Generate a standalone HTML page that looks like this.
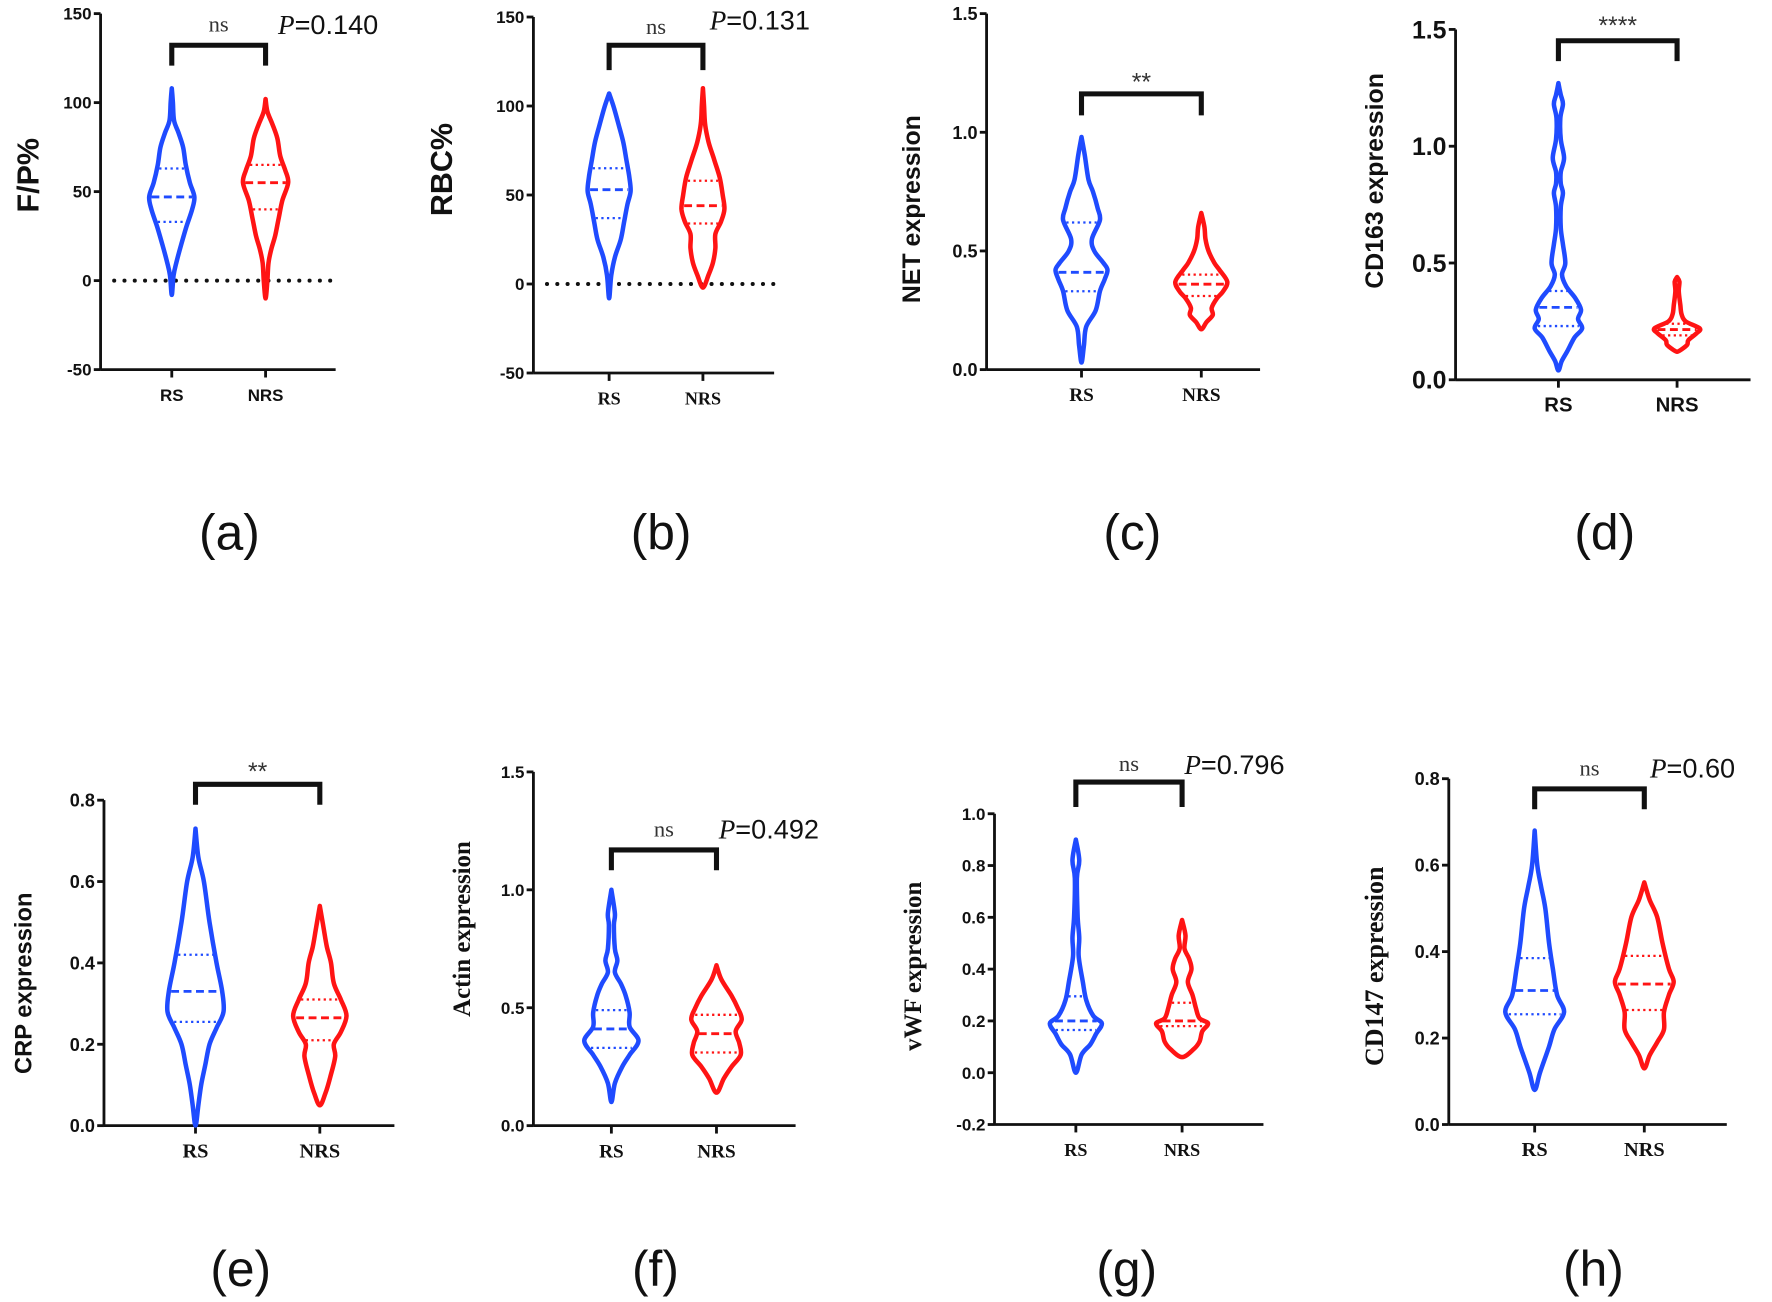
<!DOCTYPE html>
<html><head><meta charset="utf-8"><style>
html,body{margin:0;padding:0;background:#fff;}
svg{display:block;}
.sans{font-family:"Liberation Sans",sans-serif;}
.serif{font-family:"Liberation Serif",serif;}
</style></head><body>
<svg id="fig" width="1772" height="1302" viewBox="0 0 1568 1152" xmlns="http://www.w3.org/2000/svg"></svg>
<script>
const categories = ['RS','NRS'];
// violin density profiles: [value, relative half-width]
const aRS  = [[108,0],[100,0.05],[90,0.1],[83,0.3],[75,0.5],[65,0.62],[55,0.8],[47,1],[40,0.9],[30,0.64],[20,0.41],[10,0.2],[3,0.08],[-8,0]];
const aNRS = [[102,0],[95,0.08],[88,0.3],[80,0.52],[70,0.65],[62,0.87],[55,1],[45,0.74],[35,0.58],[25,0.42],[18,0.26],[10,0.13],[0,0.08],[-10,0]];
const aQ   = [[33,47,63],[40,55,65]];
const bRS  = [[107,0],[100,0.2],[90,0.43],[80,0.65],[70,0.8],[60,0.94],[52,1],[45,0.86],[35,0.7],[25,0.54],[15,0.27],[5,0.1],[-8,0]];
const bNRS = [[110,0],[100,0.05],[90,0.1],[80,0.26],[70,0.52],[60,0.78],[50,0.92],[42,1],[35,0.84],[28,0.58],[20,0.58],[12,0.47],[5,0.26],[-2,0]];
const bQ   = [[37,53,65],[34,44,58]];
const cRS  = [[0.98,0],[0.9,0.13],[0.8,0.27],[0.75,0.44],[0.68,0.62],[0.63,0.71],[0.55,0.4],[0.5,0.49],[0.45,0.84],[0.42,1],[0.38,0.89],[0.33,0.71],[0.25,0.55],[0.18,0.18],[0.1,0.09],[0.03,0]];
const cNRS = [[0.66,0],[0.6,0.12],[0.55,0.16],[0.5,0.28],[0.45,0.5],[0.42,0.7],[0.37,1],[0.33,0.84],[0.3,0.6],[0.26,0.4],[0.23,0.44],[0.2,0.2],[0.17,0]];
const cQ   = [[0.33,0.41,0.62],[0.31,0.36,0.40]];
const dRS  = [[1.27,0],[1.22,0.1],[1.18,0.19],[1.12,0.08],[1.03,0.1],[0.95,0.24],[0.89,0.1],[0.84,0.1],[0.8,0.19],[0.74,0.1],[0.65,0.1],[0.58,0.19],[0.5,0.29],[0.45,0.15],[0.4,0.33],[0.35,0.71],[0.3,0.95],[0.26,0.83],[0.22,1],[0.18,0.67],[0.12,0.36],[0.08,0.14],[0.04,0]];
const dNRS = [[0.44,0],[0.42,0.1],[0.38,0.07],[0.32,0.14],[0.28,0.19],[0.25,0.36],[0.22,0.95],[0.2,0.83],[0.17,0.48],[0.15,0.43],[0.13,0.19],[0.12,0]];
const dQ   = [[0.23,0.31,0.38],[0.19,0.215,0.24]];
const eRS  = [[0.73,0],[0.66,0.08],[0.6,0.24],[0.5,0.4],[0.4,0.6],[0.33,0.76],[0.28,0.8],[0.24,0.6],[0.2,0.4],[0.15,0.28],[0.1,0.16],[0.05,0.08],[0.0,0]];
const eNRS = [[0.54,0],[0.48,0.12],[0.44,0.2],[0.4,0.32],[0.35,0.4],[0.31,0.6],[0.27,0.76],[0.23,0.6],[0.2,0.4],[0.17,0.44],[0.12,0.3],[0.08,0.16],[0.05,0]];
const eQ   = [[0.255,0.33,0.42],[0.21,0.265,0.31]];
const fRS  = [[1.0,0],[0.9,0.13],[0.85,0.09],[0.75,0.13],[0.7,0.22],[0.65,0.13],[0.6,0.36],[0.55,0.53],[0.48,0.67],[0.42,0.67],[0.36,1],[0.3,0.67],[0.25,0.4],[0.18,0.13],[0.1,0]];
const fNRS = [[0.68,0],[0.62,0.18],[0.55,0.56],[0.5,0.78],[0.45,0.93],[0.4,0.71],[0.35,0.84],[0.3,0.89],[0.25,0.56],[0.2,0.27],[0.14,0]];
const fQ   = [[0.33,0.41,0.49],[0.31,0.39,0.47]];
const gRS  = [[0.9,0],[0.82,0.13],[0.75,0.04],[0.6,0.07],[0.52,0.13],[0.45,0.11],[0.35,0.27],[0.28,0.4],[0.22,0.67],[0.19,1],[0.15,0.78],[0.11,0.56],[0.07,0.22],[0.0,0]];
const gNRS = [[0.59,0],[0.53,0.13],[0.48,0.09],[0.44,0.27],[0.4,0.36],[0.35,0.22],[0.3,0.4],[0.25,0.53],[0.21,0.67],[0.19,1],[0.16,0.78],[0.12,0.67],[0.09,0.44],[0.06,0]];
const gQ   = [[0.165,0.2,0.295],[0.18,0.2,0.27]];
const hRS  = [[0.68,0],[0.6,0.09],[0.55,0.22],[0.5,0.36],[0.42,0.49],[0.36,0.62],[0.3,0.76],[0.26,1],[0.22,0.67],[0.18,0.49],[0.12,0.18],[0.08,0]];
const hNRS = [[0.56,0],[0.52,0.18],[0.48,0.44],[0.42,0.62],[0.36,0.84],[0.33,1],[0.3,0.84],[0.26,0.67],[0.22,0.67],[0.19,0.44],[0.16,0.18],[0.13,0]];
const hQ   = [[0.255,0.31,0.385],[0.265,0.325,0.39]];
const aTicks=['-50','0','50','100','150'], bTicks=aTicks;
const cTicks=['0.0','0.5','1.0','1.5'], dTicks=cTicks, fTicks=cTicks;
const eTicks=['0.0','0.2','0.4','0.6','0.8'], hTicks=eTicks;
const gTicks=['-0.2','0.0','0.2','0.4','0.6','0.8','1.0'];
const sigLabels=['ns','ns','**','****','**','ns','ns','ns'];
const pLabels=['=0.140','=0.131','','','','=0.492','=0.796','=0.60'];
const yTitles=['F/P%','RBC%','NET expression','CD163 expression','CRP expression','Actin expression','vWF expression','CD147 expression'];
const panelLetters=['(a)','(b)','(c)','(d)','(e)','(f)','(g)','(h)'];

const panels=[
 {id:'a',ax:89,xe:297,yTop:12,yBot:327,vMin:-50,vMax:150,cx:[152,235],half:20,br:[40,58],sigY:28,pX:246,pY:30,ticks:aTicks,prof:[aRS,aNRS],q:aQ,zero:true,tickFont:'sans',tfs:15,catFont:'sans',cfs:15,title:{x:34,y:155,fs:27,font:'sans'},lab:{x:203,y:486}},
 {id:'b',ax:472,xe:685,yTop:15,yBot:330,vMin:-50,vMax:150,cx:[539,622],half:19,br:[40,62],sigY:30,pX:628,pY:26,ticks:bTicks,prof:[bRS,bNRS],q:bQ,zero:true,tickFont:'sans',tfs:15,catFont:'serif',cfs:16,title:{x:400,y:150,fs:27,font:'sans'},lab:{x:585,y:486}},
 {id:'c',ax:873,xe:1115,yTop:12,yBot:327,vMin:0,vMax:1.5,cx:[957,1063],half:23,br:[83,102],sigY:80,ticks:cTicks,prof:[cRS,cNRS],q:cQ,tickFont:'sans',tfs:16,catFont:'serif',cfs:17,title:{x:814,y:185,fs:22,font:'sans'},lab:{x:1002,y:486}},
 {id:'d',ax:1288,xe:1549,yTop:26,yBot:336,vMin:0,vMax:1.5,cx:[1379,1484],half:21,br:[36,54],sigY:30,ticks:dTicks,prof:[dRS,dNRS],q:dQ,tickFont:'sans',tfs:22,catFont:'sans',cfs:18,title:{x:1224,y:160,fs:22,font:'sans'},lab:{x:1420,y:486}},
 {id:'e',ax:92,xe:349,yTop:708,yBot:996,vMin:0,vMax:0.8,cx:[173,283],half:31,br:[694,712],sigY:690,ticks:eTicks,prof:[eRS,eNRS],q:eQ,tickFont:'sans',tfs:16,catFont:'serif',cfs:18,title:{x:28,y:870,fs:21,font:'sans'},lab:{x:213,y:1138}},
 {id:'f',ax:472,xe:704,yTop:683,yBot:996,vMin:0,vMax:1.5,cx:[541,634],half:24,br:[752,770],sigY:740,pX:636,pY:742,ticks:fTicks,prof:[fRS,fNRS],q:fQ,tickFont:'sans',tfs:15,catFont:'serif',cfs:17,title:{x:416,y:822,fs:22,font:'serif'},lab:{x:580,y:1138}},
 {id:'g',ax:880,xe:1118,yTop:720,yBot:995,vMin:-0.2,vMax:1.0,cx:[952,1046],half:23,br:[692,714],sigY:682,pX:1048,pY:685,ticks:gTicks,prof:[gRS,gNRS],q:gQ,tickFont:'sans',tfs:15,catFont:'serif',cfs:16,title:{x:815,y:855,fs:22,font:'serif'},lab:{x:997,y:1138}},
 {id:'h',ax:1282,xe:1528,yTop:689,yBot:995,vMin:0,vMax:0.8,cx:[1358,1455],half:26,br:[698,716],sigY:686,pX:1460,pY:688,ticks:hTicks,prof:[hRS,hNRS],q:hQ,tickFont:'sans',tfs:16,catFont:'serif',cfs:18,title:{x:1224,y:855,fs:23,font:'serif'},lab:{x:1410,y:1138}}
];
const NS='http://www.w3.org/2000/svg';
const svg=document.getElementById('fig');
const colors=['#1f4bff','#ff1414'];
function mk(tag,attrs,parent){const e=document.createElementNS(NS,tag);for(const k in attrs)e.setAttribute(k,attrs[k]);(parent||svg).appendChild(e);return e;}
function smooth(pts){let d='M'+pts[0][0]+','+pts[0][1];for(let i=0;i<pts.length-1;i++){const p0=pts[Math.max(0,i-1)],p1=pts[i],p2=pts[i+1],p3=pts[Math.min(pts.length-1,i+2)];const c1=[p1[0]+(p2[0]-p0[0])/6,p1[1]+(p2[1]-p0[1])/6],c2=[p2[0]-(p3[0]-p1[0])/6,p2[1]-(p3[1]-p1[1])/6];d+='C'+c1[0].toFixed(1)+','+c1[1].toFixed(1)+' '+c2[0].toFixed(1)+','+c2[1].toFixed(1)+' '+p2[0]+','+p2[1];}return d;}
function widthAt(prof,v){for(let i=0;i<prof.length-1;i++){const a=prof[i],b=prof[i+1];if(v<=a[0]&&v>=b[0]){const t=(a[0]-v)/(a[0]-b[0]);return a[1]+(b[1]-a[1])*t;}}return 0;}
panels.forEach((P,pi)=>{
 const g=mk('g',{});
 
 
 const y=v=>P.yBot-(v-P.vMin)/(P.vMax-P.vMin)*(P.yBot-P.yTop);
 const ya=mk('line',{x1:P.ax,y1:P.yTop,x2:P.ax,y2:P.yBot,stroke:'#111','stroke-width':2.5},g);
 
 
 const xa=mk('line',{x1:P.ax,y1:P.yBot,x2:P.xe,y2:P.yBot,stroke:'#111','stroke-width':2.5},g);
 
 
 P.ticks.forEach(t=>{const yy=y(parseFloat(t));
  mk('line',{x1:P.ax-6,y1:yy,x2:P.ax,y2:yy,stroke:'#111','stroke-width':2.5},g);
  const tx=mk('text',{x:P.ax-8,y:yy+P.tfs*0.36,'text-anchor':'end','font-size':P.tfs,'font-weight':'bold',class:P.tickFont,fill:'#111'},g);
  tx.textContent=t;
  
  
 });
 if(P.zero){const z=mk('line',{x1:P.ax+12,y1:y(0),x2:P.xe,y2:y(0),stroke:'#111','stroke-width':3.5,'stroke-dasharray':'0.1,9','stroke-linecap':'round'},g);
  
  }
 categories.forEach((c,ci)=>{
  const cx=P.cx[ci];
  mk('line',{x1:cx,y1:P.yBot,x2:cx,y2:P.yBot+7,stroke:'#111','stroke-width':2.5},g);
  const cl=mk('text',{x:cx,y:P.yBot+28,'text-anchor':'middle','font-size':P.cfs,'font-weight':'bold',class:P.catFont,fill:'#111'},g);
  cl.textContent=c;
  
  
  const prof=P.prof[ci];
  const right=prof.map(p=>[+(cx+p[1]*P.half).toFixed(1),+y(p[0]).toFixed(1)]);
  const left=prof.slice().reverse().map(p=>[+(cx-p[1]*P.half).toFixed(1),+y(p[0]).toFixed(1)]);
  const pts=right.concat(left.slice(1));
  const vp=mk('path',{d:smooth(pts)+'Z',fill:'none',stroke:colors[ci],'stroke-width':4,'stroke-linejoin':'round'},g);
  
  
  P.q[ci].forEach((qv,qi)=>{const w=widthAt(prof,qv)*P.half-2;const yy=y(qv);
   const ql=mk('line',{x1:cx-w,y1:yy,x2:cx+w,y2:yy,stroke:colors[ci],'stroke-width':qi==1?2.5:2,'stroke-dasharray':qi==1?'7,4':'2,3'},g);
   
   
  });
 });
 const br=mk('path',{d:`M${P.cx[0]},${P.br[1]}V${P.br[0]}H${P.cx[1]}V${P.br[1]}`,fill:'none',stroke:'#111','stroke-width':4.5},g);
 
 
 const isNs=sigLabels[pi]==='ns';
 const sg=mk('text',{x:(P.cx[0]+P.cx[1])/2,y:P.sigY,'text-anchor':'middle','font-size':isNs?20:22,class:isNs?'serif':'sans',fill:'#333'},g);
 sg.textContent=sigLabels[pi];
 
 
 if(pLabels[pi]){const pt=mk('text',{x:P.pX,y:P.pY,'font-size':24,class:'sans',fill:'#111'},g);
  const it=mk('tspan',{'font-style':'italic',class:'serif'},pt);it.textContent='P';
  const rest=mk('tspan',{},pt);rest.textContent=pLabels[pi];
  
  }
 const tt=mk('text',{x:P.title.x,y:P.title.y,'text-anchor':'middle','font-size':P.title.fs,'font-weight':'bold',class:P.title.font,fill:'#111',transform:`rotate(-90 ${P.title.x} ${P.title.y})`},g);
 tt.textContent=yTitles[pi];
 
 
 const lb=mk('text',{x:P.lab.x,y:P.lab.y,'text-anchor':'middle','font-size':44,class:'sans',fill:'#111'},g);
 lb.textContent=panelLetters[pi];
 
 
});
</script>
</body></html>
